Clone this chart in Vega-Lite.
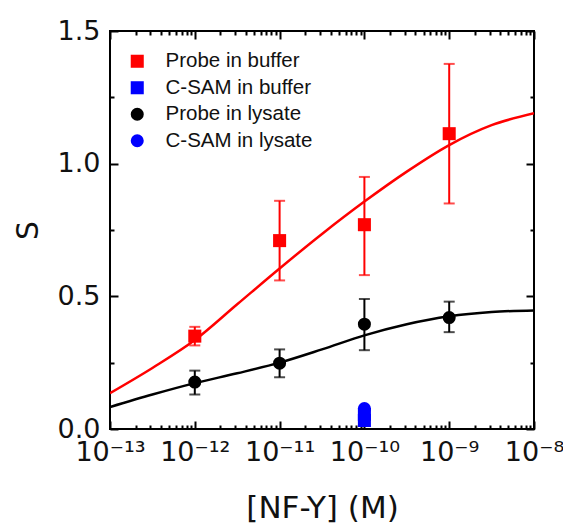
{
  "$schema": "https://vega.github.io/schema/vega-lite/v6.json",
  "width": 424,
  "height": 398,
  "autosize": {"type": "none"},
  "padding": {"left": 110, "top": 31, "right": 29, "bottom": 97},
  "background": "white",
  "config": {
    "font": "Liberation Sans",
    "view": {"stroke": "black", "strokeWidth": 2},
    "axis": {"grid": false, "labelFont": "DejaVu Sans", "titleFont": "DejaVu Sans", "titleFontWeight": "normal"}
  },
  "datasets": {
    "redfit": [
      {"x": 1e-13, "S": 0.135}, {"x": 3.162e-13, "S": 0.23}, {"x": 1e-12, "S": 0.335}, {"x": 3.162e-12, "S": 0.47},
      {"x": 1e-11, "S": 0.605}, {"x": 3.162e-11, "S": 0.735}, {"x": 1e-10, "S": 0.857}, {"x": 3.162e-10, "S": 0.97},
      {"x": 1e-9, "S": 1.07}, {"x": 3.162e-9, "S": 1.145}, {"x": 1e-8, "S": 1.19}
    ],
    "blackfit": [
      {"x": 1e-13, "S": 0.083}, {"x": 3.162e-13, "S": 0.13}, {"x": 1e-12, "S": 0.173}, {"x": 3.162e-12, "S": 0.21},
      {"x": 1e-11, "S": 0.25}, {"x": 3.162e-11, "S": 0.30}, {"x": 1e-10, "S": 0.353}, {"x": 3.162e-10, "S": 0.395},
      {"x": 1e-9, "S": 0.425}, {"x": 3.162e-9, "S": 0.441}, {"x": 1e-8, "S": 0.447}
    ],
    "points": [
      {"series": "Probe in buffer", "x": 1e-12, "S": 0.35, "lo": 0.315, "hi": 0.385},
      {"series": "Probe in buffer", "x": 1e-11, "S": 0.71, "lo": 0.56, "hi": 0.86},
      {"series": "Probe in buffer", "x": 1e-10, "S": 0.77, "lo": 0.58, "hi": 0.95},
      {"series": "Probe in buffer", "x": 1e-9, "S": 1.113, "lo": 0.85, "hi": 1.376},
      {"series": "Probe in lysate", "x": 1e-12, "S": 0.177, "lo": 0.13, "hi": 0.22},
      {"series": "Probe in lysate", "x": 1e-11, "S": 0.248, "lo": 0.195, "hi": 0.30},
      {"series": "Probe in lysate", "x": 1e-10, "S": 0.395, "lo": 0.297, "hi": 0.49},
      {"series": "Probe in lysate", "x": 1e-9, "S": 0.42, "lo": 0.365, "hi": 0.48},
      {"series": "C-SAM in buffer", "x": 1e-10, "S": 0.032, "lo": 0.032, "hi": 0.032},
      {"series": "C-SAM in buffer", "x": 1e-10, "S": 0.055, "lo": 0.055, "hi": 0.055},
      {"series": "C-SAM in lysate", "x": 1e-10, "S": 0.077, "lo": 0.077, "hi": 0.077}
    ]
  },
  "resolve": {"axis": {"x": "independent", "y": "independent"}},
  "layer": [
    {
      "data": {"name": "redfit"},
      "mark": {"type": "line", "color": "#ff0000", "strokeWidth": 2.5, "interpolate": "monotone", "clip": true},
      "encoding": {
        "x": {"field": "x", "type": "quantitative", "scale": {"type": "log", "domain": [1e-13, 1e-8], "nice": false},
          "axis": {"orient": "top", "title": null, "labels": false, "domain": false, "values": [1e-13,1e-12,1e-11,1e-10,1e-9,1e-8], "tickSize": -8, "tickColor": "#000000", "tickWidth": 2}},
        "y": {"field": "S", "type": "quantitative", "scale": {"domain": [0, 1.5], "nice": false},
          "axis": {"orient": "right", "title": null, "labels": false, "domain": false, "values": [0,0.5,1,1.5], "tickSize": -8, "tickColor": "#000000", "tickWidth": 2}}
      }
    },
    {
      "data": {"name": "blackfit"},
      "mark": {"type": "line", "color": "#000000", "strokeWidth": 2.5, "interpolate": "monotone", "clip": true},
      "encoding": {
        "x": {"field": "x", "type": "quantitative", "scale": {"type": "log", "domain": [1e-13, 1e-8], "nice": false},
          "axis": {"orient": "bottom", "title": null, "labels": false, "domain": false, "tickSize": -4, "tickColor": "#000000", "tickWidth": 2,
            "values": [2e-13,3e-13,4e-13,5e-13,6e-13,7e-13,8e-13,9e-13,2e-12,3e-12,4e-12,5e-12,6e-12,7e-12,8e-12,9e-12,2e-11,3e-11,4e-11,5e-11,6e-11,7e-11,8e-11,9e-11,2e-10,3e-10,4e-10,5e-10,6e-10,7e-10,8e-10,9e-10,2e-9,3e-9,4e-9,5e-9,6e-9,7e-9,8e-9,9e-9]}},
        "y": {"field": "S", "type": "quantitative", "scale": {"domain": [0, 1.5], "nice": false},
          "axis": {"orient": "left", "title": null, "labels": false, "domain": false, "tickSize": -4, "tickColor": "#000000", "tickWidth": 2, "values": [0.25, 0.75, 1.25]}}
      }
    },
    {
      "data": {"name": "points"},
      "mark": {"type": "rule", "strokeWidth": 2},
      "encoding": {
        "x": {"field": "x", "type": "quantitative", "scale": {"type": "log", "domain": [1e-13, 1e-8], "nice": false}, "axis": null},
        "y": {"field": "lo", "type": "quantitative", "scale": {"domain": [0, 1.5], "nice": false}, "axis": null},
        "y2": {"field": "hi"},
        "color": {"field": "series", "type": "nominal", "scale": {"domain": ["Probe in buffer", "C-SAM in buffer", "Probe in lysate", "C-SAM in lysate"], "range": ["#ff0000", "#0000ff", "#000000", "#0000ff"]}}
      }
    },
    {
      "data": {"name": "points"},
      "mark": {"type": "tick", "orient": "horizontal", "size": 11, "thickness": 2},
      "encoding": {
        "x": {"field": "x", "type": "quantitative", "scale": {"type": "log", "domain": [1e-13, 1e-8], "nice": false},
          "axis": {"orient": "top", "title": null, "labels": false, "domain": false, "tickSize": -4, "tickColor": "#000000", "tickWidth": 2,
            "values": [2e-13,3e-13,4e-13,5e-13,6e-13,7e-13,8e-13,9e-13,2e-12,3e-12,4e-12,5e-12,6e-12,7e-12,8e-12,9e-12,2e-11,3e-11,4e-11,5e-11,6e-11,7e-11,8e-11,9e-11,2e-10,3e-10,4e-10,5e-10,6e-10,7e-10,8e-10,9e-10,2e-9,3e-9,4e-9,5e-9,6e-9,7e-9,8e-9,9e-9]}},
        "y": {"field": "lo", "type": "quantitative", "scale": {"domain": [0, 1.5], "nice": false},
          "axis": {"orient": "right", "title": null, "labels": false, "domain": false, "tickSize": -4, "tickColor": "#000000", "tickWidth": 2, "values": [0.25, 0.75, 1.25]}},
        "color": {"field": "series", "type": "nominal"}
      }
    },
    {
      "data": {"name": "points"},
      "mark": {"type": "tick", "orient": "horizontal", "size": 11, "thickness": 2},
      "encoding": {
        "x": {"field": "x", "type": "quantitative", "scale": {"type": "log", "domain": [1e-13, 1e-8], "nice": false}, "axis": null},
        "y": {"field": "hi", "type": "quantitative", "scale": {"domain": [0, 1.5], "nice": false}, "axis": null},
        "color": {"field": "series", "type": "nominal"}
      }
    },
    {
      "data": {"name": "points"},
      "mark": {"type": "point", "filled": true, "opacity": 1, "size": 170},
      "encoding": {
        "x": {"field": "x", "type": "quantitative", "scale": {"type": "log", "domain": [1e-13, 1e-8], "nice": false},
          "axis": {"orient": "bottom", "title": "[NF-Y] (M)", "titleFontSize": 31, "titlePadding": 28, "titleColor": "#111", "labelFontSize": 27, "labelColor": "#111", "labelPadding": 18, "labelFlush": false, "labelOverlap": false, "labelBound": false,
            "domain": false, "values": [1e-13,1e-12,1e-11,1e-10,1e-9,1e-8], "tickSize": -8, "tickColor": "#000000", "tickWidth": 2,
            "labelExpr": "round(log(datum.value)/LN10) == -13 ? '10⁻¹³' : round(log(datum.value)/LN10) == -12 ? '10⁻¹²' : round(log(datum.value)/LN10) == -11 ? '10⁻¹¹' : round(log(datum.value)/LN10) == -10 ? '10⁻¹⁰' : round(log(datum.value)/LN10) == -9 ? '10⁻⁹' : '10⁻⁸'"}},
        "y": {"field": "S", "type": "quantitative", "scale": {"domain": [0, 1.5], "nice": false},
          "axis": {"orient": "left", "title": "S", "titleFontSize": 30, "titlePadding": 14, "titleColor": "#111", "labelFontSize": 27, "labelColor": "#111", "labelPadding": 18, "labelOverlap": false,
            "domain": false, "values": [0,0.5,1,1.5], "format": ".1f", "tickSize": -8, "tickColor": "#000000", "tickWidth": 2}},
        "color": {"field": "series", "type": "nominal",
          "legend": {"orient": "none", "legendX": 17, "legendY": 20, "title": null, "labelFontSize": 20.5, "labelColor": "#111", "symbolSize": 170, "symbolOpacity": 1, "labelOffset": 18, "rowPadding": 5.5, "symbolStrokeWidth": 0, "padding": 0,
            "encode": {"symbols": {"update": {"opacity": {"value": 1}, "fillOpacity": {"value": 1}}}}}},
        "shape": {"field": "series", "type": "nominal", "scale": {"domain": ["Probe in buffer", "C-SAM in buffer", "Probe in lysate", "C-SAM in lysate"], "range": ["square", "square", "circle", "circle"]}}
      }
    }
  ]
}
